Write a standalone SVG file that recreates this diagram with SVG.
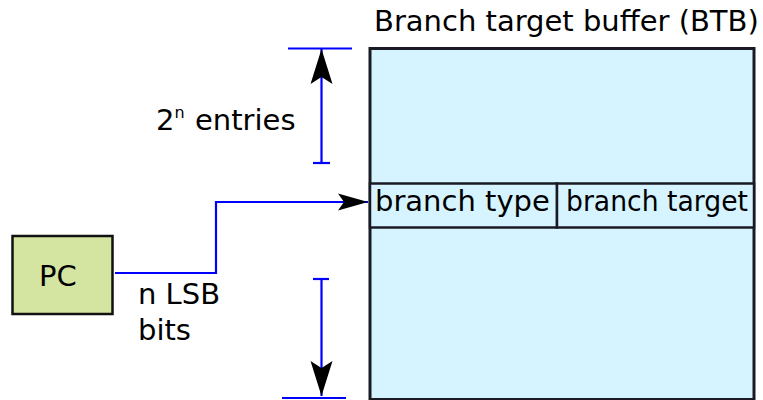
<svg xmlns="http://www.w3.org/2000/svg" width="763" height="400" viewBox="0 0 763 400">
  <style>
    .lbl { font-family: "DejaVu Sans", "Liberation Sans", sans-serif; font-size: 29px; fill: #000; }
    .box { fill: #d5f4ff; stroke: #1a1a24; }
    .wire { fill: none; stroke: #0000ff; stroke-width: 2.2; }
  </style>
  <defs>
    <!-- notched arrowheads, tip at the path end -->
    <marker id="headBig" markerUnits="userSpaceOnUse" markerWidth="40" markerHeight="26" refX="35" refY="11" orient="auto" overflow="visible">
      <path d="M35,11 L0,0 L7,11 L0,22 Z" fill="#000"/>
    </marker>
    <marker id="headSmall" markerUnits="userSpaceOnUse" markerWidth="34" markerHeight="20" refX="30" refY="8.5" orient="auto" overflow="visible">
      <path d="M30,8.5 L0,0 L6,8.5 L0,17 Z" fill="#000"/>
    </marker>
  </defs>

  <rect width="763" height="400" fill="#fff"/>

  <!-- branch target buffer table -->
  <g id="btb">
    <rect class="box" x="370" y="48.5" width="384" height="351" stroke-width="3"/>
    <text class="lbl" x="374" y="31">Branch target buffer (BTB)</text>
  </g>

  <g id="entry-type">
    <rect class="box" x="370" y="183.5" width="187" height="44" stroke-width="2.5"/>
    <text class="lbl" x="375" y="211">branch type</text>
  </g>

  <g id="entry-target">
    <rect class="box" x="557" y="183.5" width="197" height="44" stroke-width="2.5"/>
    <text class="lbl" x="566" y="211" textLength="182" lengthAdjust="spacingAndGlyphs">branch target</text>
  </g>

  <!-- program counter -->
  <g id="pc">
    <rect x="12.5" y="236" width="100" height="78" fill="#d3e5a0" stroke="#111" stroke-width="2.5"/>
    <text class="lbl" x="39" y="286">PC</text>
  </g>

  <g id="size-label">
    <text class="lbl" x="156" y="130">2<tspan font-size="16" dy="-12">n</tspan><tspan dy="12" x="195">entries</tspan></text>
  </g>

  <g id="index-label">
    <text class="lbl" x="138" y="304">n LSB</text>
    <text class="lbl" x="138" y="340">bits</text>
  </g>

  <g id="connectors">
    <!-- PC index into the table -->
    <polyline class="wire" points="115,273 216,273 216,202 368,202" marker-end="url(#headSmall)"/>

    <!-- table height dimension, upper half -->
    <line class="wire" x1="288" y1="48.5" x2="352" y2="48.5"/>
    <line class="wire" x1="321.5" y1="163" x2="321.5" y2="49" marker-end="url(#headBig)"/>
    <line class="wire" x1="313" y1="163" x2="330" y2="163"/>

    <!-- table height dimension, lower half -->
    <line class="wire" x1="313" y1="279" x2="329" y2="279"/>
    <line class="wire" x1="321.5" y1="279" x2="321.5" y2="396" marker-end="url(#headBig)"/>
    <line class="wire" x1="282" y1="398" x2="346" y2="398"/>
  </g>
</svg>
